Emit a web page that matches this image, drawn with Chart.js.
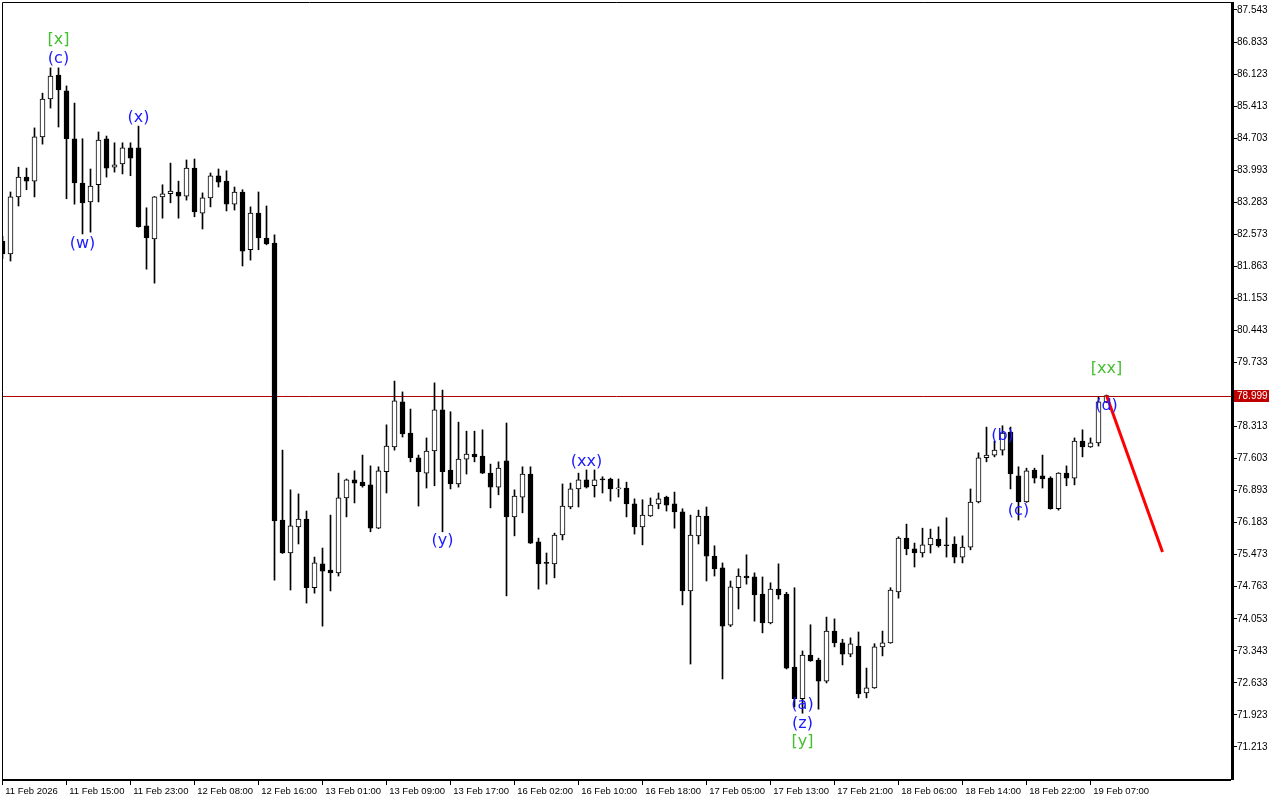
<!DOCTYPE html>
<html>
<head>
<meta charset="utf-8">
<script src="https://cdn.jsdelivr.net/npm/chart.js@4/dist/chart.umd.min.js"></script>
<style>
  html, body { margin: 0; padding: 0; background: #fff; }
</style>
</head>
<body>
<canvas id="chart" width="1280" height="800"></canvas>
<script>
// hourly bars, index 0 is the first bar on the left
const opens = [
  82.42, 82.14, 83.40, 83.84, 83.75, 84.73, 85.57, 86.10, 85.75, 84.69,
  83.71, 83.29, 83.67, 84.69, 84.06, 84.13, 84.49, 84.49, 82.76, 82.47,
  83.40, 83.47, 83.51, 83.42, 84.04, 83.04, 83.38, 83.87, 83.75, 83.24,
  83.51, 82.23, 83.04, 82.49, 82.38, 76.24, 75.51, 76.09, 76.26, 74.74,
  75.27, 75.13, 75.07, 76.73, 77.13, 77.08, 77.02, 76.06, 77.31, 77.86,
  78.86, 78.17, 77.62, 77.28, 77.77, 78.68, 77.35, 77.04, 77.59, 77.70,
  77.66, 77.28, 76.97, 77.55, 76.31, 76.75, 77.26, 75.76, 75.29, 75.27,
  75.91, 76.53, 76.93, 77.13, 77.00, 77.15, 77.15, 76.93, 76.95, 76.60,
  76.09, 76.33, 76.60, 76.75, 76.60, 76.42, 74.67, 75.89, 76.33, 75.44,
  75.18, 73.91, 74.74, 75.00, 74.98, 74.60, 73.96, 74.71, 74.60, 72.98,
  72.28, 73.25, 73.14, 72.67, 73.78, 73.52, 73.27, 73.45, 72.41, 72.52,
  73.43, 73.52, 74.65, 75.84, 75.60, 75.51, 75.69, 75.82, 75.69, 75.71,
  75.42, 75.64, 76.64, 77.62, 77.68, 77.79, 78.19, 77.22, 76.64, 77.35,
  77.22, 77.17, 76.49, 77.28, 77.17, 77.99, 77.86, 77.95, 78.86
];
const highs = [
  82.53, 83.51, 84.06, 84.04, 84.93, 85.70, 86.26, 86.26, 85.86, 85.48,
  84.69, 84.02, 84.84, 84.75, 84.60, 84.60, 84.60, 84.97, 83.16, 83.41,
  83.67, 84.15, 83.75, 84.22, 84.24, 83.49, 83.93, 84.02, 83.98, 83.62,
  83.56, 83.18, 83.51, 83.20, 82.56, 77.79, 76.91, 76.82, 76.44, 75.42,
  75.62, 76.35, 77.28, 77.15, 77.33, 77.68, 77.44, 77.42, 78.35, 79.32,
  79.08, 78.70, 77.68, 78.06, 79.28, 79.12, 78.64, 78.41, 78.21, 78.21,
  78.24, 77.48, 77.53, 78.39, 76.91, 77.42, 77.42, 75.84, 75.51, 75.95,
  77.04, 77.06, 77.28, 77.35, 77.35, 77.20, 77.17, 77.15, 77.08, 76.71,
  76.69, 76.73, 76.84, 76.77, 76.86, 76.49, 76.35, 76.46, 76.53, 75.67,
  75.29, 74.89, 75.16, 75.47, 75.07, 74.98, 74.85, 75.27, 74.64, 74.74,
  73.34, 73.92, 73.18, 74.09, 74.05, 73.60, 73.63, 73.76, 72.96, 73.50,
  73.78, 74.74, 75.87, 76.15, 75.73, 76.06, 76.04, 76.09, 76.29, 75.87,
  75.89, 76.93, 77.73, 78.30, 77.99, 78.33, 78.30, 77.42, 77.39, 77.39,
  77.68, 77.20, 77.29, 77.44, 78.06, 78.24, 78.06, 78.97, 79.01
];
const lows = [
  82.03, 81.98, 83.20, 83.56, 83.40, 84.57, 85.37, 84.95, 83.36, 83.24,
  82.58, 82.62, 83.29, 83.84, 83.95, 83.91, 83.87, 82.73, 81.80, 81.49,
  82.93, 83.27, 82.93, 83.33, 82.96, 82.69, 83.18, 83.62, 83.09, 83.11,
  81.87, 82.00, 82.23, 82.34, 74.91, 75.50, 74.69, 75.71, 74.40, 74.62,
  73.89, 74.67, 75.00, 76.31, 76.62, 76.97, 75.98, 76.05, 76.84, 77.79,
  78.08, 77.53, 76.55, 76.95, 77.00, 75.98, 76.93, 76.97, 77.26, 77.53,
  77.27, 76.51, 76.80, 74.56, 75.89, 76.40, 75.72, 74.71, 74.82, 74.96,
  75.80, 76.49, 76.53, 76.95, 76.75, 76.84, 76.66, 76.75, 76.31, 75.93,
  75.69, 76.32, 76.49, 76.44, 76.06, 74.36, 73.05, 75.71, 74.89, 75.00,
  72.72, 73.88, 74.27, 74.82, 74.00, 73.74, 73.94, 74.49, 72.94, 72.10,
  71.96, 73.11, 72.05, 72.63, 73.43, 73.03, 73.21, 72.30, 72.30, 72.51,
  73.23, 73.51, 74.51, 75.47, 75.20, 75.42, 75.51, 75.64, 75.42, 75.29,
  75.29, 75.58, 76.62, 77.53, 77.64, 77.68, 76.93, 76.24, 76.63, 77.06,
  76.95, 76.48, 76.46, 77.00, 77.02, 77.64, 77.85, 77.88, 78.84
];
const closes = [
  82.14, 83.40, 83.84, 83.75, 84.73, 85.57, 86.08, 85.77, 84.69, 83.71,
  83.27, 83.64, 84.66, 84.04, 84.11, 84.49, 84.26, 82.74, 82.49, 83.40,
  83.47, 83.53, 83.42, 84.04, 83.07, 83.38, 83.87, 83.73, 83.24, 83.51,
  82.20, 83.04, 82.49, 82.36, 76.22, 75.51, 76.11, 76.26, 74.74, 75.29,
  75.11, 75.07, 76.73, 77.13, 77.06, 77.00, 76.06, 77.33, 77.88, 78.88,
  78.15, 77.62, 77.31, 77.77, 78.68, 77.31, 77.04, 77.59, 77.70, 77.64,
  77.28, 76.97, 77.39, 76.31, 76.77, 77.26, 75.73, 75.27, 75.28, 75.91,
  76.55, 76.93, 77.13, 76.97, 77.13, 77.13, 76.93, 76.93, 76.60, 76.09,
  76.35, 76.57, 76.71, 76.57, 76.42, 74.67, 75.91, 76.33, 75.44, 75.16,
  73.89, 74.76, 75.00, 74.96, 74.58, 73.96, 74.71, 74.58, 72.96, 72.28,
  73.25, 73.12, 72.67, 73.78, 73.52, 73.27, 73.50, 72.39, 72.52, 73.43,
  73.52, 74.69, 75.84, 75.60, 75.51, 75.69, 75.84, 75.67, 75.67, 75.42,
  75.64, 76.64, 77.62, 77.68, 77.79, 78.17, 77.26, 76.64, 77.33, 77.17,
  77.15, 76.49, 77.28, 77.17, 77.99, 77.86, 77.95, 78.86, 78.999
];

// time axis: one label every 8 bars
const timeLabelBars = [0, 8, 16, 24, 32, 40, 48, 56, 64, 72, 80, 88, 96, 104, 112, 120, 128, 136];
const timeLabels = [
  '11 Feb 2026', '11 Feb 15:00', '11 Feb 23:00', '12 Feb 08:00', '12 Feb 16:00', '13 Feb 01:00',
  '13 Feb 09:00', '13 Feb 17:00', '16 Feb 02:00', '16 Feb 10:00', '16 Feb 18:00', '17 Feb 05:00',
  '17 Feb 13:00', '17 Feb 21:00', '18 Feb 06:00', '18 Feb 14:00', '18 Feb 22:00', '19 Feb 07:00'
];

const priceTicks = [
  87.543, 86.833, 86.123, 85.413, 84.703, 83.993, 83.283, 82.573, 81.863, 81.153, 80.443, 79.733,
  78.313, 77.603, 76.893, 76.183, 75.473, 74.763, 74.053, 73.343, 72.633, 71.923, 71.213
];
const lastPrice = 78.999;

// red forecast segment
const forecastBars = [138, 145];
const forecastPrices = [78.999, 75.53];

// wave marks
const waveTexts  = ['[x]', '(c)', '(w)', '(x)', '(y)', '(xx)', '(a)', '(z)', '[y]', '(b)', '(c)', '(d)', '[xx]'];
const waveBars   = [7, 7, 10, 17, 55, 73, 100, 100, 100, 125, 127, 138, 138];
const wavePrices = [86.88, 86.46, 82.36, 85.15, 75.78, 77.53, 72.14, 71.72, 71.32, 78.10, 76.44, 78.77, 79.59];

Chart.defaults.font.family = '"Liberation Sans", Arial, sans-serif';
Chart.defaults.color = '#000';

const wickData = highs.map((h, i) => ({ x: i, y: [lows[i], h] }));
const bodyData = opens.map((o, i) => ({ x: i, y: [o, closes[i]] }));
const bodyFill = opens.map((o, i) => closes[i] < o ? '#000000' : '#ffffff');
const forecastData = forecastBars.map((b, i) => ({ x: b, y: forecastPrices[i] }));

const chartFrame = {
  id: 'chartFrame',
  beforeDatasetsDraw(chart) {
    const { ctx, chartArea: a, scales: { y } } = chart;
    const py = Math.round(y.getPixelForValue(lastPrice)) + 0.5;
    ctx.save();
    ctx.strokeStyle = '#b00000';
    ctx.lineWidth = 1;
    ctx.beginPath();
    ctx.moveTo(a.left, py);
    ctx.lineTo(a.right, py);
    ctx.stroke();
    ctx.restore();
  },
  afterDraw(chart) {
    const { ctx, chartArea: a, scales: { x, y } } = chart;
    ctx.save();
    // frame
    ctx.strokeStyle = '#000';
    ctx.lineWidth = 1;
    ctx.beginPath();
    ctx.moveTo(a.left + 0.5, a.bottom);
    ctx.lineTo(a.left + 0.5, a.top + 0.5);
    ctx.lineTo(a.right, a.top + 0.5);
    ctx.stroke();
    ctx.fillStyle = '#000';
    ctx.fillRect(a.left, a.bottom - 1, a.right - a.left, 2);
    ctx.fillRect(a.right, a.top, 3, a.bottom - a.top);

    // last price tag
    const py = Math.round(y.getPixelForValue(lastPrice));
    ctx.fillStyle = '#c00000';
    ctx.fillRect(a.right + 3, py - 6, 35, 12);
    ctx.fillStyle = '#fff';
    ctx.font = '10px "Liberation Sans", Arial, sans-serif';
    ctx.textAlign = 'left';
    ctx.textBaseline = 'middle';
    ctx.fillText(lastPrice.toFixed(3), a.right + 6, py + 0.5);

    // wave labels
    ctx.font = '16px "DejaVu Sans", sans-serif';
    ctx.textAlign = 'center';
    waveTexts.forEach((t, i) => {
      ctx.fillStyle = t[0] === '[' ? '#44c030' : '#1a1aff';
      ctx.fillText(t, x.getPixelForValue(waveBars[i]), y.getPixelForValue(wavePrices[i]));
    });
    ctx.restore();
  }
};

new Chart(document.getElementById('chart'), {
  type: 'bar',
  data: {
    datasets: [
      {
        type: 'line',
        data: forecastData,
        borderColor: '#ff0000',
        borderWidth: 3,
        pointRadius: 0,
        order: 0
      },
      {
        data: bodyData,
        backgroundColor: bodyFill,
        borderColor: '#000',
        borderWidth: 1,
        borderSkipped: false,
        barThickness: 5,
        minBarLength: 1,
        grouped: false,
        order: 1
      },
      {
        data: wickData,
        backgroundColor: '#000',
        borderWidth: 0,
        barThickness: 1,
        grouped: false,
        order: 2
      }
    ]
  },
  options: {
    responsive: false,
    devicePixelRatio: 1,
    animation: false,
    layout: { padding: { left: 2, top: 2, right: 0, bottom: 0 } },
    plugins: { legend: { display: false }, tooltip: { enabled: false } },
    scales: {
      x: {
        type: 'linear',
        bounds: 'data',
        offset: false,
        min: -0.0625,
        max: 153.5625,
        grid: { offset: false, drawOnChartArea: false, drawTicks: true, tickLength: 5, color: '#000' },
        border: { display: false },
        ticks: {
          font: { size: 9.5 },
          padding: 1,
          align: 'start',
          maxRotation: 0,
          autoSkip: false,
          callback: (v, i) => ' ' + timeLabels[i]
        },
        afterBuildTicks: s => { s.ticks = timeLabelBars.map(v => ({ value: v })); },
        afterFit: s => { s.height = 20; s.paddingLeft = 0; s.paddingRight = 0; }
      },
      y: {
        type: 'linear',
        position: 'right',
        bounds: 'data',
        min: 70.48,
        max: 87.72,
        grid: { drawOnChartArea: false, drawTicks: true, tickLength: 6, color: '#000' },
        border: { display: false },
        ticks: {
          font: { size: 10 },
          padding: 0,
          callback: v => v.toFixed(3)
        },
        afterBuildTicks: s => { s.ticks = priceTicks.map(v => ({ value: v })); },
        afterFit: s => { s.width = 49; s.paddingTop = 0; s.paddingBottom = 0; }
      }
    }
  },
  plugins: [chartFrame]
});
</script>
</body>
</html>
